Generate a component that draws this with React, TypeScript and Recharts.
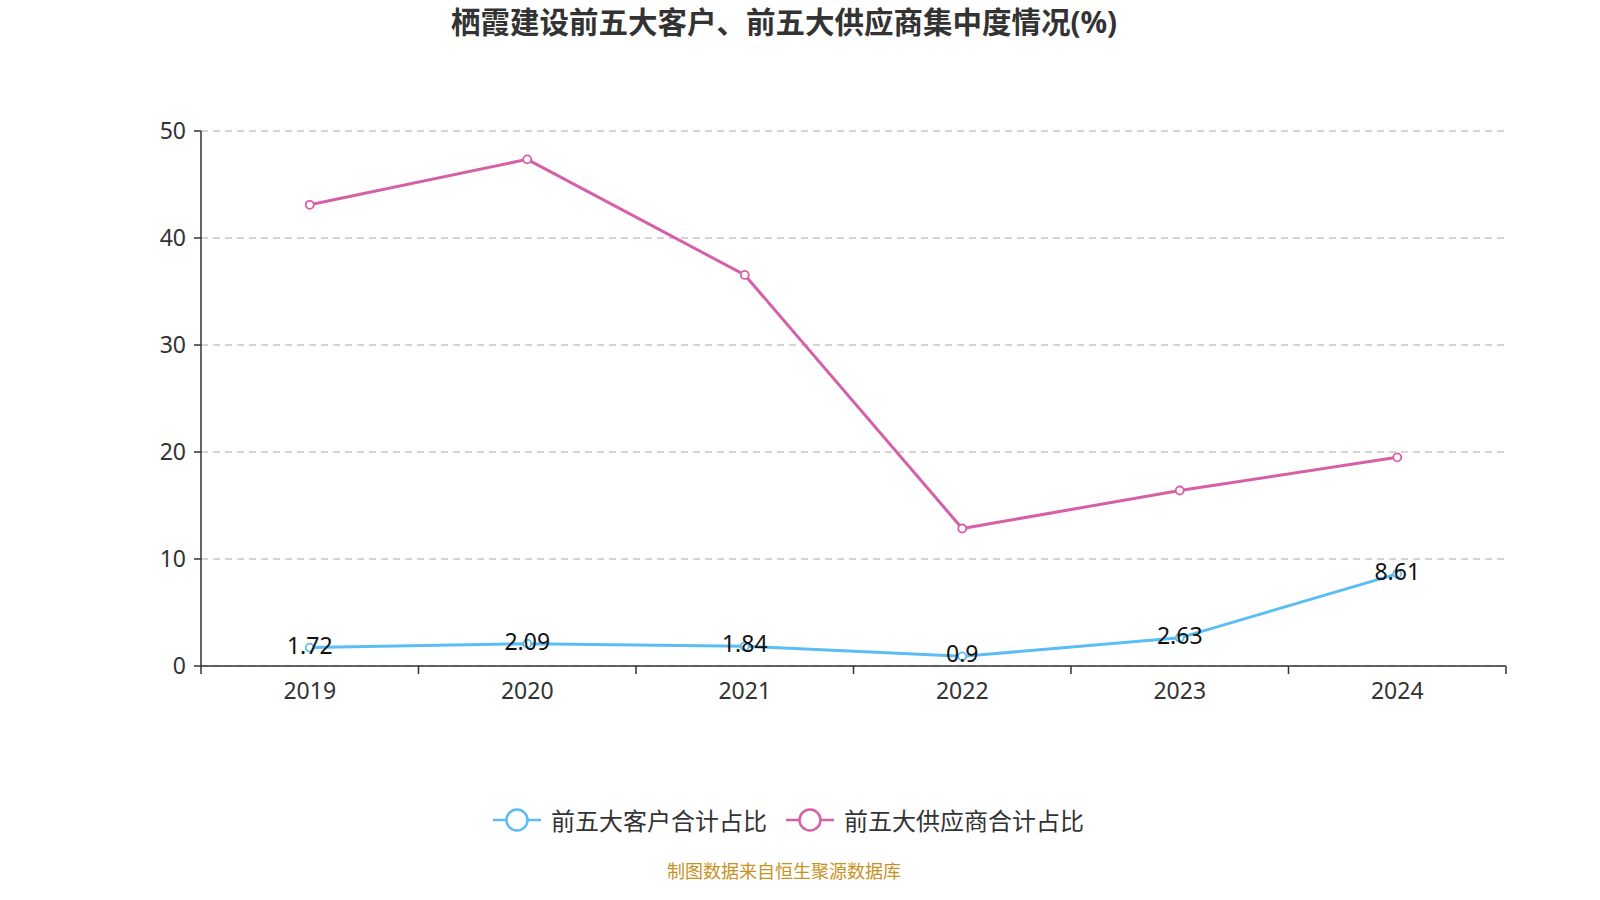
import React from 'react';
import { LineChart, Line, XAxis, YAxis, CartesianGrid, LabelList } from 'recharts';

const years = ['2019', '2020', '2021', '2022', '2023', '2024'];
const customerShare = [1.72, 2.09, 1.84, 0.9, 2.63, 8.61];
const supplierShare = [43.1, 47.35, 36.55, 12.85, 16.4, 19.5];
const yTicks = [0, 10, 20, 30, 40, 50];

const BLUE = '#5bbdf5';
const PINK = '#d660a8';
const FONT = "'Noto Sans', 'Noto Sans CJK SC', sans-serif";

// x is the band centre: 0.5, 1.5, ...
const data = years.map((year, i) => ({
  x: i + 0.5,
  year,
  customer: customerShare[i],
  supplier: supplierShare[i],
}));

// integers draw the tick marks (band edges), halves draw the year labels
const xTicks = [0, ...years.flatMap((_, i) => [i + 0.5, i + 1])];

function XTick(props: any) {
  const { x, y, payload } = props;
  const v = payload.value;
  if (Number.isInteger(v)) {
    return <line x1={x} y1={y} x2={x} y2={y + 8} stroke="#333" strokeWidth={1.5} />;
  }
  const label = years[Math.floor(v)];
  return (
    <text x={x} y={y + 33} textAnchor="middle" fill="#333" fontSize={23} fontFamily={FONT}>
      {label}
    </text>
  );
}

function PointLabel(props: any) {
  const { x, y, value } = props;
  return (
    <text x={x} y={y + 6} textAnchor="middle" fill="#111" fontSize={23} fontFamily={FONT}>
      {value}
    </text>
  );
}

function LegendItem({ color, label, gap }: { color: string; label: string; gap: number }) {
  return (
    <div style={{ display: 'flex', alignItems: 'center', marginRight: gap }}>
      <svg width={50} height={26} style={{ marginRight: 9 }}>
        <line x1={1} y1={13} x2={49} y2={13} stroke={color} strokeWidth={2.5} />
        <circle cx={25} cy={13} r={10.5} fill="#fff" stroke={color} strokeWidth={2.5} />
      </svg>
      <span style={{ fontSize: 24, color: '#333' }}>{label}</span>
    </div>
  );
}

export default function App() {
  React.useEffect(() => {
    document.body.style.margin = '0';
  }, []);

  return (
    <div style={{ position: 'relative', width: 1600, height: 900, background: '#fff', fontFamily: FONT }}>
      <div
        style={{
          position: 'absolute',
          top: -1,
          left: 0,
          width: 1568,
          textAlign: 'center',
          fontSize: 29.5,
          fontWeight: 'bold',
          color: '#333',
        }}
      >
        栖霞建设前五大客户、前五大供应商集中度情况(%)
      </div>

      <LineChart
        width={1600}
        height={900}
        data={data}
        margin={{ top: 131, right: 94, left: 141, bottom: 194 }}
      >
        <CartesianGrid vertical={false} stroke="#c8c8c8" strokeDasharray="7 5" strokeWidth={1.3} />
        <XAxis
          dataKey="x"
          type="number"
          domain={[0, 6]}
          ticks={xTicks}
          interval={0}
          tick={<XTick />}
          tickLine={false}
          tickSize={0}
          tickMargin={0}
          height={40}
          axisLine={{ stroke: '#333', strokeWidth: 1.5 }}
        />
        <YAxis
          domain={[0, 50]}
          ticks={yTicks}
          width={60}
          tickSize={7}
          tickMargin={8}
          axisLine={{ stroke: '#333', strokeWidth: 1.5 }}
          tickLine={{ stroke: '#333', strokeWidth: 1.5 }}
          tick={{ fill: '#333', fontSize: 23, fontFamily: FONT }}
        />
        <Line
          dataKey="supplier"
          stroke={PINK}
          strokeWidth={3}
          dot={{ r: 4, fill: '#fff', stroke: PINK, strokeWidth: 1.8 }}
          isAnimationActive={false}
        />
        <Line
          dataKey="customer"
          stroke={BLUE}
          strokeWidth={3}
          dot={{ r: 4, fill: '#fff', stroke: BLUE, strokeWidth: 1.8 }}
          isAnimationActive={false}
        >
          <LabelList dataKey="customer" content={<PointLabel />} />
        </Line>
      </LineChart>

      <div
        style={{
          position: 'absolute',
          top: 802,
          left: 0,
          width: 1576,
          display: 'flex',
          justifyContent: 'center',
        }}
      >
        <LegendItem color={BLUE} label="前五大客户合计占比" gap={18} />
        <LegendItem color={PINK} label="前五大供应商合计占比" gap={0} />
      </div>

      <div
        style={{
          position: 'absolute',
          top: 857,
          left: 0,
          width: 1568,
          textAlign: 'center',
          fontSize: 18,
          color: '#c8921e',
        }}
      >
        制图数据来自恒生聚源数据库
      </div>
    </div>
  );
}
